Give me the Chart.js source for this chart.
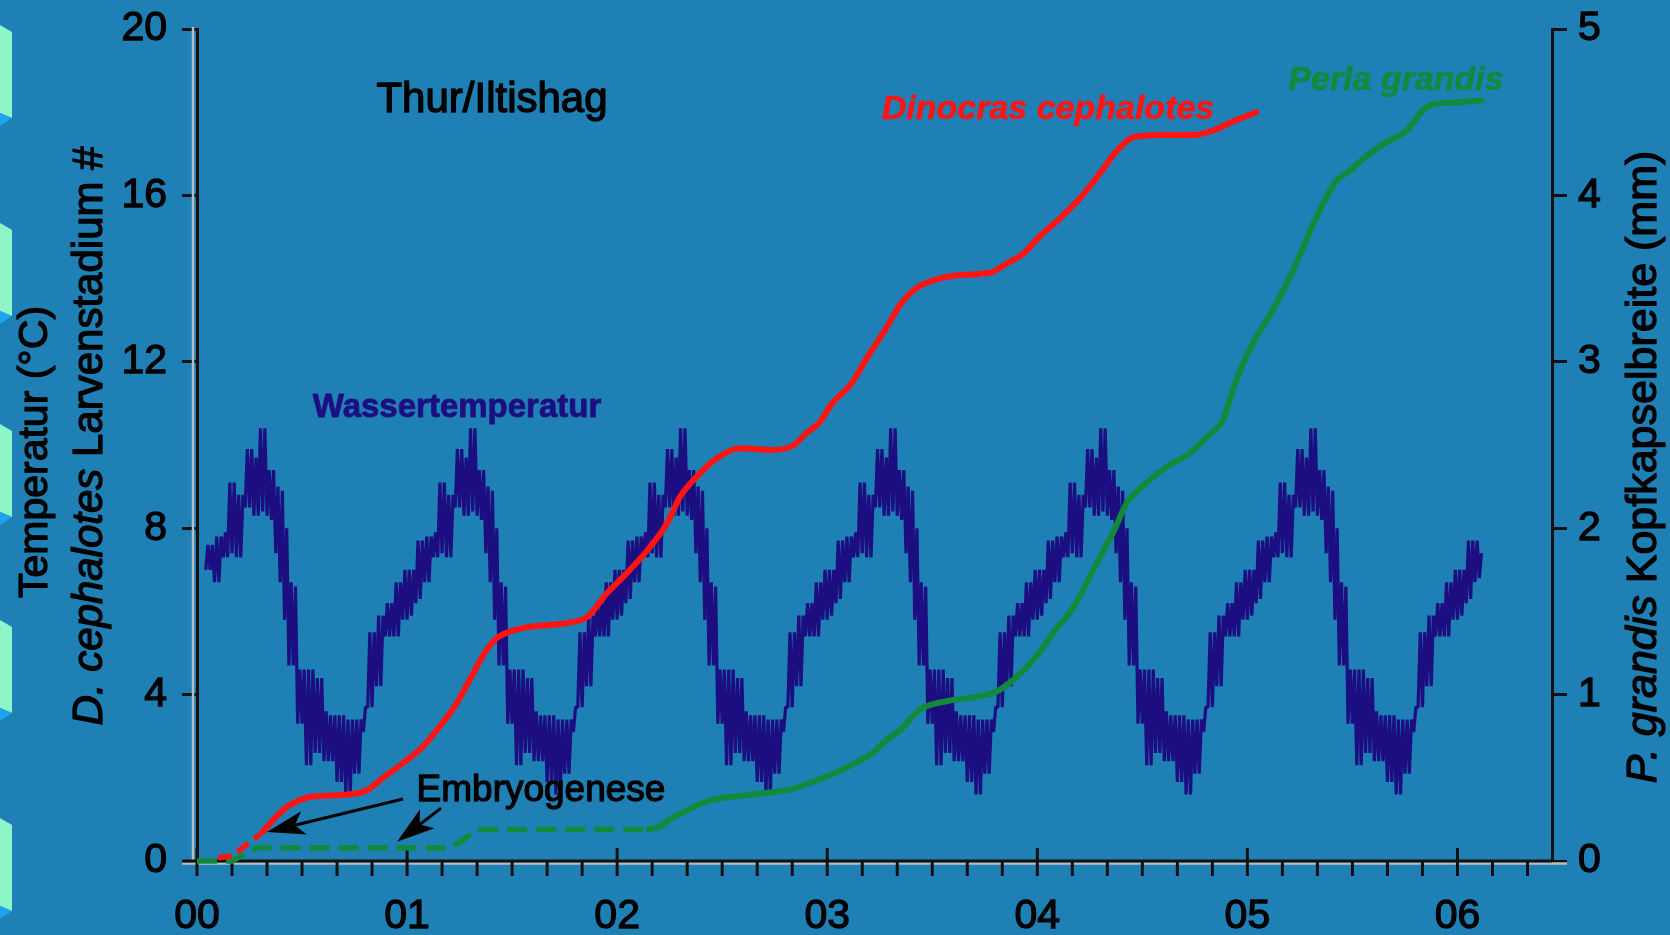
<!DOCTYPE html>
<html>
<head>
<meta charset="utf-8">
<title>Thur/Iltishag</title>
<script src="https://cdn.jsdelivr.net/npm/chart.js@4.4.1/dist/chart.umd.min.js"></script>
<style>
  html, body { margin: 0; padding: 0; background: #1f80b5; }
  canvas { display: block; }
</style>
</head>
<body>
<canvas id="c" width="1670" height="935"></canvas>
<script>
// ---- x axis: months since January 2000, labelled by year ----
const yearLabels = ['00', '01', '02', '03', '04', '05', '06'];
const yearStartMonths = [0, 12, 24, 36, 48, 60, 72];

// ---- Wassertemperatur (°C): daily low and high, per quarter month from month 0.5 ----
const tempStart = 0.5;
const tempStep = 0.25;
const tempHigh2000 = [7.6, 7.6, 7.8, 7.8, 7.9, 9.1, 9.1, 8.8, 8.8, 9.9, 9.9, 9.7, 10.4, 10.4, 9.4, 9.4, 9.0, 8.9, 8.0, 6.7, 6.6, 4.6, 4.6,
                      4.6, 4.6, 4.4, 4.4, 3.6, 3.5, 3.5, 3.5, 3.5, 3.4, 3.4, 3.4, 3.4, 3.7, 5.5, 5.5, 5.9, 5.9, 6.2, 6.2, 6.7, 6.7, 7.0];
const tempLow2000  = [7.0, 7.0, 6.7, 6.7, 7.3, 7.3, 7.4, 7.3, 7.3, 8.5, 8.5, 8.3, 8.3, 8.4, 8.3, 8.2, 7.4, 6.7, 5.8, 4.7, 4.7, 3.3, 3.3,
                      2.3, 2.3, 2.6, 2.6, 2.4, 2.4, 2.4, 1.9, 1.9, 1.6, 1.6, 2.1, 2.1, 3.1, 3.7, 3.7, 4.2, 4.2, 5.4, 5.4, 5.4, 5.4, 5.8];
const tempHigh2001 = [7.0, 7.0, 7.7, 7.7, 7.8, 7.8, 7.9, 9.1, 9.1, 8.8, 8.8, 9.9, 9.9, 9.7, 10.4, 10.4, 9.4, 9.4, 9.0, 8.9, 8.0, 6.7, 6.6, 4.6,
                      4.6, 4.6, 4.6, 4.4, 4.4, 3.6, 3.5, 3.5, 3.5, 3.5, 3.4, 3.4, 3.4, 3.4, 3.7, 5.5, 5.5, 5.9, 5.9, 6.2, 6.2, 6.7, 6.7, 7.0];
const tempLow2001  = [5.8, 5.9, 6.2, 6.3, 6.7, 6.7, 7.3, 7.3, 7.4, 7.3, 7.3, 8.5, 8.5, 8.3, 8.3, 8.4, 8.3, 8.2, 7.4, 6.7, 5.8, 4.7, 4.7, 3.3,
                      3.3, 2.3, 2.3, 2.6, 2.6, 2.4, 2.4, 2.4, 1.9, 1.9, 1.6, 1.6, 2.1, 2.1, 3.1, 3.7, 3.7, 4.2, 4.2, 5.4, 5.4, 5.4, 5.4, 5.8];
const tempHigh2002 = [7.0, 7.0, 7.7, 7.7, 7.8, 7.8, 7.9, 9.1, 9.1, 8.8, 8.8, 9.9, 9.9, 9.7, 10.4, 10.4, 9.4, 9.4, 9.0, 8.9, 8.0, 6.7, 6.6, 4.6,
                      4.6, 4.6, 4.6, 4.4, 4.4, 3.6, 3.5, 3.5, 3.5, 3.5, 3.4, 3.4, 3.4, 3.4, 3.7, 5.5, 5.5, 5.9, 5.9, 6.2, 6.2, 6.7, 6.7, 7.0];
const tempLow2002  = [5.8, 5.9, 6.2, 6.3, 6.7, 6.7, 7.3, 7.3, 7.4, 7.3, 7.3, 8.5, 8.5, 8.3, 8.3, 8.4, 8.3, 8.2, 7.4, 6.7, 5.8, 4.7, 4.7, 3.3,
                      3.3, 2.3, 2.3, 2.6, 2.6, 2.4, 2.4, 2.4, 1.9, 1.9, 1.6, 1.6, 2.1, 2.1, 3.1, 3.7, 3.7, 4.2, 4.2, 5.4, 5.4, 5.4, 5.4, 5.8];
const tempHigh2003 = [7.0, 7.0, 7.7, 7.7, 7.8, 7.8, 7.9, 9.1, 9.1, 8.8, 8.8, 9.9, 9.9, 9.7, 10.4, 10.4, 9.4, 9.4, 9.0, 8.9, 8.0, 6.7, 6.6, 4.6,
                      4.6, 4.6, 4.6, 4.4, 4.4, 3.6, 3.5, 3.5, 3.5, 3.5, 3.4, 3.4, 3.4, 3.4, 3.7, 5.5, 5.5, 5.9, 5.9, 6.2, 6.2, 6.7, 6.7, 7.0];
const tempLow2003  = [5.8, 5.9, 6.2, 6.3, 6.7, 6.7, 7.3, 7.3, 7.4, 7.3, 7.3, 8.5, 8.5, 8.3, 8.3, 8.4, 8.3, 8.2, 7.4, 6.7, 5.8, 4.7, 4.7, 3.3,
                      3.3, 2.3, 2.3, 2.6, 2.6, 2.4, 2.4, 2.4, 1.9, 1.9, 1.6, 1.6, 2.1, 2.1, 3.1, 3.7, 3.7, 4.2, 4.2, 5.4, 5.4, 5.4, 5.4, 5.8];
const tempHigh2004 = [7.0, 7.0, 7.7, 7.7, 7.8, 7.8, 7.9, 9.1, 9.1, 8.8, 8.8, 9.9, 9.9, 9.7, 10.4, 10.4, 9.4, 9.4, 9.0, 8.9, 8.0, 6.7, 6.6, 4.6,
                      4.6, 4.6, 4.6, 4.4, 4.4, 3.6, 3.5, 3.5, 3.5, 3.5, 3.4, 3.4, 3.4, 3.4, 3.7, 5.5, 5.5, 5.9, 5.9, 6.2, 6.2, 6.7, 6.7, 7.0];
const tempLow2004  = [5.8, 5.9, 6.2, 6.3, 6.7, 6.7, 7.3, 7.3, 7.4, 7.3, 7.3, 8.5, 8.5, 8.3, 8.3, 8.4, 8.3, 8.2, 7.4, 6.7, 5.8, 4.7, 4.7, 3.3,
                      3.3, 2.3, 2.3, 2.6, 2.6, 2.4, 2.4, 2.4, 1.9, 1.9, 1.6, 1.6, 2.1, 2.1, 3.1, 3.7, 3.7, 4.2, 4.2, 5.4, 5.4, 5.4, 5.4, 5.8];
const tempHigh2005 = [7.0, 7.0, 7.7, 7.7, 7.8, 7.8, 7.9, 9.1, 9.1, 8.8, 8.8, 9.9, 9.9, 9.7, 10.4, 10.4, 9.4, 9.4, 9.0, 8.9, 8.0, 6.7, 6.6, 4.6,
                      4.6, 4.6, 4.6, 4.4, 4.4, 3.6, 3.5, 3.5, 3.5, 3.5, 3.4, 3.4, 3.4, 3.4, 3.7, 5.5, 5.5, 5.9, 5.9, 6.2, 6.2, 6.7, 6.7, 7.0];
const tempLow2005  = [5.8, 5.9, 6.2, 6.3, 6.7, 6.7, 7.3, 7.3, 7.4, 7.3, 7.3, 8.5, 8.5, 8.3, 8.3, 8.4, 8.3, 8.2, 7.4, 6.7, 5.8, 4.7, 4.7, 3.3,
                      3.3, 2.3, 2.3, 2.6, 2.6, 2.4, 2.4, 2.4, 1.9, 1.9, 1.6, 1.6, 2.1, 2.1, 3.1, 3.7, 3.7, 4.2, 4.2, 5.4, 5.4, 5.4, 5.4, 5.8];
const tempHigh2006 = [7.0, 7.0, 7.7, 7.7, 7.7, 7.4];
const tempLow2006  = [5.8, 5.9, 6.2, 6.3, 6.7, 6.8];

// ---- Dinocras cephalotes: larval stage (left axis) ----
const dinocrasEggMonths = [1.2, 2.0, 2.3, 3.0, 3.6];
const dinocrasEggStage  = [0.08, 0.12, 0.22, 0.45, 0.64];
const dinocrasMonths = [3.73, 4.36, 4.93, 5.5, 6.6, 8.5, 9.7, 10.6, 11.75, 12.9, 13.85, 14.8, 15.75, 16.5, 17.1, 17.85,
                        19.0, 20.3, 21.5, 22.3, 23.4, 24.55, 25.9, 26.85, 27.6, 28.55, 29.7, 31.0, 32.9, 34.1, 34.8, 35.6,
                        36.2, 37.4, 38.3, 39.3, 40.2, 41.1, 42.3, 43.8, 45.3, 46.2, 47.2, 48.1, 49.3, 50.5, 51.7, 52.6,
                        53.5, 55.1, 56.9, 58.1, 59.3, 60.5];
const dinocrasStage  = [0.69, 0.99, 1.23, 1.39, 1.55, 1.59, 1.70, 1.99, 2.35, 2.75, 3.23, 3.77, 4.49, 5.05, 5.35, 5.51,
                        5.63, 5.68, 5.75, 5.87, 6.43, 6.92, 7.56, 8.12, 8.76, 9.24, 9.68, 9.92, 9.88, 10.0, 10.28, 10.56,
                        10.96, 11.49, 12.12, 12.76, 13.39, 13.77, 13.99, 14.09, 14.14, 14.35, 14.6, 15.0, 15.45, 15.96, 16.6, 17.1,
                        17.4, 17.45, 17.45, 17.57, 17.8, 18.0];

// ---- Perla grandis: head capsule width in mm (right axis) ----
const perlaEggMonths = [0, 2.0, 2.7, 3.4, 14.3, 15.0, 15.6, 16.0, 25.8];
const perlaEggWidth  = [0, 0.0, 0.04, 0.08, 0.08, 0.11, 0.16, 0.19, 0.19];
const perlaMonths = [25.8, 26.5, 27.0, 27.7, 28.9, 30.0, 31.0, 32.6, 33.9, 35.0, 36.7, 37.6, 38.6, 39.3, 40.2, 41.3,
                     42.8, 44.7, 45.7, 46.65, 47.8, 48.9, 50.1, 51.2, 52.4, 53.1, 54.1, 55.4, 56.7, 57.7, 58.6, 59.3,
                     60.2, 61.5, 62.7, 63.9, 65.1, 65.9, 66.5, 67.8, 69.1, 70.1, 70.8, 72.0, 73.4];
const perlaWidth  = [0.19, 0.21, 0.25, 0.29, 0.35, 0.38, 0.39, 0.41, 0.43, 0.47, 0.54, 0.59, 0.65, 0.72, 0.79, 0.91,
                     0.96, 0.99, 1.02, 1.09, 1.21, 1.37, 1.53, 1.75, 1.99, 2.15, 2.26, 2.37, 2.45, 2.55, 2.65, 2.87,
                     3.09, 3.32, 3.57, 3.86, 4.09, 4.15, 4.21, 4.31, 4.39, 4.52, 4.55, 4.56, 4.57];

// ---- hatching arrows: [tail month, tail value, tip month, tip value] on the left axis ----
const embryoArrows = [
  [11.77, 1.49, 4.0, 0.70],
  [13.94, 1.27, 11.43, 0.46]
];

const FONT = "'Liberation Sans', Arial, Helvetica, sans-serif";
const BG = '#1f80b5';
const NAVY = '#1c0d80';
const RED = '#ff1414';
const GREEN = '#13893c';
const INK = '#111111';

const zip = (xs, ys) => xs.map((x, i) => ({ x, y: ys[i] }));

// temperature trace: each quarter month runs from its low to its high
const tempHigh = [].concat(tempHigh2000, tempHigh2001, tempHigh2002, tempHigh2003, tempHigh2004, tempHigh2005, tempHigh2006);
const tempLow  = [].concat(tempLow2000, tempLow2001, tempLow2002, tempLow2003, tempLow2004, tempLow2005, tempLow2006);
const tempPoints = [];
tempHigh.forEach((hi, i) => {
  const t = tempStart + i * tempStep;
  tempPoints.push({ x: t, y: tempLow[i] });
  tempPoints.push({ x: t + tempStep / 2, y: hi });
});

// page-edge decoration on the far left
const stripTops = [25, 223, 424, 620, 818];

// filled text with a thin outline of the same colour for a heavier stroke
function heavyText(ctx, text, x, y, weight) {
  ctx.lineWidth = weight;
  ctx.strokeStyle = ctx.fillStyle;
  ctx.lineJoin = 'round';
  ctx.strokeText(text, x, y);
  ctx.fillText(text, x, y);
}

function drawVerticalText(ctx, parts, baselineX, centerY) {
  ctx.save();
  ctx.translate(baselineX, centerY);
  ctx.rotate(-Math.PI / 2);
  let total = 0;
  parts.forEach(p => { ctx.font = p.font; total += ctx.measureText(p.text).width; });
  let pos = -total / 2;
  ctx.textAlign = 'left';
  ctx.textBaseline = 'alphabetic';
  ctx.fillStyle = '#000';
  parts.forEach(p => {
    ctx.font = p.font;
    heavyText(ctx, p.text, pos, 0, 1.3);
    pos += ctx.measureText(p.text).width;
  });
  ctx.restore();
}

function drawArrow(ctx, x1, y1, x2, y2, headLen, headHalf) {
  const ang = Math.atan2(y2 - y1, x2 - x1);
  const cos = Math.cos(ang), sin = Math.sin(ang);
  const bx = x2 - cos * headLen, by = y2 - sin * headLen;
  const nx = x2 - cos * headLen * 0.75, ny = y2 - sin * headLen * 0.75;
  ctx.beginPath();
  ctx.moveTo(x1, y1);
  ctx.lineTo(nx, ny);
  ctx.stroke();
  ctx.beginPath();
  ctx.moveTo(x2, y2);
  ctx.lineTo(bx - sin * headHalf, by + cos * headHalf);
  ctx.lineTo(nx, ny);
  ctx.lineTo(bx + sin * headHalf, by - cos * headHalf);
  ctx.closePath();
  ctx.fill();
}

const decorPlugin = {
  id: 'decor',
  beforeDraw(chart) {
    const ctx = chart.ctx;
    ctx.save();
    ctx.fillStyle = BG;
    ctx.fillRect(0, 0, chart.width, chart.height);
    stripTops.forEach(t => {
      ctx.fillStyle = '#8ef5c8';
      ctx.beginPath();
      ctx.moveTo(0, t); ctx.lineTo(12, t + 7); ctx.lineTo(12, t + 93); ctx.lineTo(0, t + 88);
      ctx.closePath(); ctx.fill();
      ctx.fillStyle = '#1ea3f2';
      ctx.beginPath();
      ctx.moveTo(0, t + 88); ctx.lineTo(12, t + 93); ctx.lineTo(0, t + 101);
      ctx.closePath(); ctx.fill();
    });
    ctx.restore();
  },
  beforeDatasetsDraw(chart) {
    const ctx = chart.ctx;
    const xs = chart.scales.x;
    const area = chart.chartArea;
    ctx.save();
    // light edge beside the axes
    ctx.strokeStyle = '#b9bcc0';
    ctx.lineWidth = 2.5;
    ctx.beginPath();
    ctx.moveTo(area.left - 4, area.top - 2);
    ctx.lineTo(area.left - 4, area.bottom);
    ctx.moveTo(area.left - 15, area.bottom + 2.5);
    ctx.lineTo(area.right + 15, area.bottom + 2.5);
    ctx.stroke();
    // x axis line
    ctx.strokeStyle = INK;
    ctx.lineWidth = 3;
    ctx.beginPath();
    ctx.moveTo(area.left - 15, area.bottom);
    ctx.lineTo(area.right, area.bottom);
    ctx.stroke();
    // two-month minor ticks and yearly major ticks
    for (let m = 0; m <= xs.max; m += 2) {
      const px = xs.getPixelForValue(m);
      const major = yearStartMonths.includes(m);
      ctx.beginPath();
      ctx.moveTo(px, major ? area.bottom - 13 : area.bottom);
      ctx.lineTo(px, area.bottom + 15);
      ctx.stroke();
    }
    ctx.restore();
  },
  afterDatasetsDraw(chart) {
    const ctx = chart.ctx;
    const xs = chart.scales.x, ys = chart.scales.y;
    ctx.save();
    // arrows from the "Embryogenese" note
    ctx.strokeStyle = '#000';
    ctx.fillStyle = '#000';
    ctx.lineWidth = 3;
    embryoArrows.forEach(a => {
      drawArrow(ctx, xs.getPixelForValue(a[0]), ys.getPixelForValue(a[1]),
                xs.getPixelForValue(a[2]), ys.getPixelForValue(a[3]), 38, 12);
    });

    ctx.textBaseline = 'alphabetic';
    ctx.textAlign = 'center';
    ctx.fillStyle = '#000';
    ctx.font = `42px ${FONT}`;
    heavyText(ctx, 'Thur/Iltishag', 492, 112, 1.4);

    ctx.font = `37px ${FONT}`;
    heavyText(ctx, 'Embryogenese', 541, 801, 1.3);

    ctx.fillStyle = NAVY;
    ctx.font = `bold 33px ${FONT}`;
    heavyText(ctx, 'Wassertemperatur', 457, 417, 0.8);

    ctx.fillStyle = RED;
    ctx.font = `italic bold 34px ${FONT}`;
    heavyText(ctx, 'Dinocras cephalotes', 1048, 119, 0.6);

    ctx.fillStyle = GREEN;
    heavyText(ctx, 'Perla grandis', 1396, 90, 0.6);

    // axis titles
    drawVerticalText(ctx, [{ text: 'Temperatur (°C)', font: `41px ${FONT}` }], 47, 452);
    drawVerticalText(ctx, [{ text: 'D. cephalotes', font: `italic 42px ${FONT}` },
                           { text: ' Larvenstadium #', font: `42px ${FONT}` }], 102, 436);
    drawVerticalText(ctx, [{ text: 'P. grandis', font: `italic 43px ${FONT}` },
                           { text: ' Kopfkapselbreite (mm)', font: `43px ${FONT}` }], 1656, 467);
    ctx.restore();
  }
};

// y labels use a compact line height so they do not push the plot area down
const yTickFont = { family: FONT, size: 41, lineHeight: 0.5 };
const xTickFont = { family: FONT, size: 41 };

new Chart(document.getElementById('c'), {
  type: 'line',
  data: {
    datasets: [
      {
        label: 'Dinocras cephalotes',
        data: zip(dinocrasMonths, dinocrasStage),
        yAxisID: 'y', borderColor: RED, borderWidth: 6,
        pointRadius: 0, cubicInterpolationMode: 'monotone',
        borderCapStyle: 'round', borderJoinStyle: 'round', order: 0, clip: false
      },
      {
        label: 'Dinocras cephalotes (Ei)',
        data: zip(dinocrasEggMonths, dinocrasEggStage),
        yAxisID: 'y', borderColor: RED, borderWidth: 5.5, borderDash: [14, 7],
        pointRadius: 0, tension: 0, order: 0, clip: false
      },
      {
        label: 'Perla grandis',
        data: zip(perlaMonths, perlaWidth),
        yAxisID: 'y2', borderColor: GREEN, borderWidth: 6,
        pointRadius: 0, cubicInterpolationMode: 'monotone',
        borderCapStyle: 'round', borderJoinStyle: 'round', order: 1, clip: false
      },
      {
        label: 'Perla grandis (Ei)',
        data: zip(perlaEggMonths, perlaEggWidth),
        yAxisID: 'y2', borderColor: GREEN, borderWidth: 5.5, borderDash: [20, 9],
        pointRadius: 0, tension: 0, order: 1, clip: false
      },
      {
        label: 'Wassertemperatur',
        data: tempPoints,
        yAxisID: 'y', borderColor: NAVY, borderWidth: 3.2,
        pointRadius: 0, tension: 0, borderJoinStyle: 'bevel', order: 2, clip: false
      }
    ]
  },
  options: {
    responsive: false,
    maintainAspectRatio: false,
    devicePixelRatio: 1,
    animation: false,
    events: [],
    layout: { padding: { top: 29, left: 0, right: 0, bottom: 0 } },
    plugins: { legend: { display: false }, tooltip: { enabled: false } },
    scales: {
      x: {
        type: 'linear', position: 'bottom', min: 0, max: 77.4,
        afterFit: s => { s.height = 74; },
        afterBuildTicks: s => { s.ticks = yearStartMonths.map(v => ({ value: v })); },
        grid: { display: false, drawTicks: false },
        border: { display: false },
        ticks: {
          autoSkip: false, maxRotation: 0, padding: 31,
          font: xTickFont, color: '#000', textStrokeColor: '#000', textStrokeWidth: 1.3,
          callback: v => yearLabels[yearStartMonths.indexOf(v)]
        }
      },
      y: {
        position: 'left', min: 0, max: 20,
        afterFit: s => { s.width = 197; },
        grid: { drawOnChartArea: false, drawTicks: true, tickLength: 15, color: INK, lineWidth: 3 },
        border: { display: true, color: INK, width: 3 },
        ticks: { stepSize: 4, padding: 15, font: yTickFont, color: '#000', textStrokeColor: '#000', textStrokeWidth: 1.3 }
      },
      y2: {
        position: 'right', min: 0, max: 5,
        afterFit: s => { s.width = 118; },
        grid: { drawOnChartArea: false, drawTicks: true, tickLength: 15, color: INK, lineWidth: 3 },
        border: { display: true, color: INK, width: 3 },
        ticks: { stepSize: 1, padding: 11, font: yTickFont, color: '#000', textStrokeColor: '#000', textStrokeWidth: 1.3 }
      }
    }
  },
  plugins: [decorPlugin]
});
</script>
</body>
</html>
